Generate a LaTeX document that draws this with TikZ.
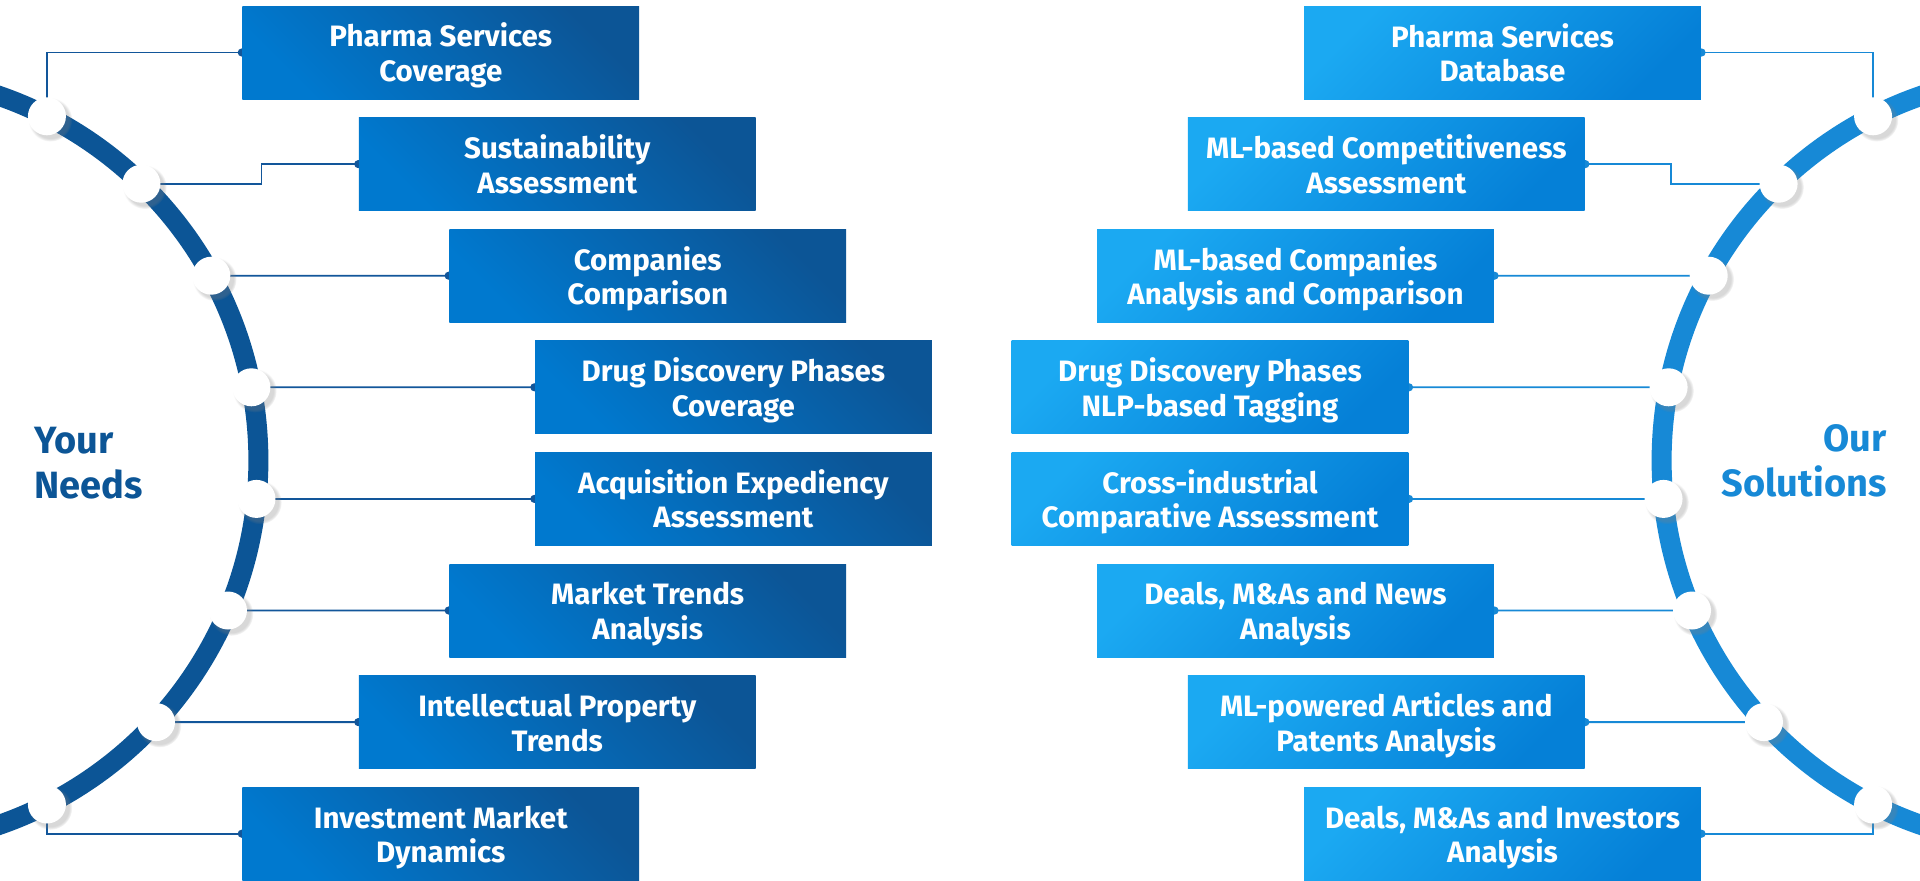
\documentclass[tikz,border=0pt]{standalone}
\usepackage{fontspec}
\setmainfont{Fira Sans}
\usetikzlibrary{calc,shadows,arrows.meta}
\definecolor{needdark}{HTML}{0C5596}
\definecolor{needlight}{HTML}{0079CF}
\definecolor{needline}{HTML}{12569A}
\definecolor{soldark}{HTML}{0580D7}
\definecolor{sollight}{HTML}{1BA9F2}
\definecolor{solarc}{HTML}{1789D6}
\newcommand\topstrut{\rule{0pt}{30pt}}
\pgfdeclarelayer{back}
\pgfsetlayers{back,main}

\begin{document}
\begin{tikzpicture}[x=1pt, y=-1pt,
    box/.style={minimum width=396.7pt, minimum height=93pt, inner sep=0pt, align=center, text=white, font=\fontsize{29.5}{34.5}\selectfont\bfseries,
      execute at end node={\rule[-6.5pt]{0pt}{6.5pt}}},
    needbox/.style={box, bottom color=needlight, top color=needdark, shading angle=-45},
    solbox/.style={box, top color=sollight, bottom color=soldark, shading angle=45},
    knob/.style={circle, fill=white, minimum size=38pt, inner sep=0pt, circular drop shadow={shadow scale=1.15, shadow xshift=3pt, shadow yshift=-3pt, opacity=0.3}},
    needlink/.style={draw=needline, line width=1.8pt, shorten >=-3.5pt, -{Circle[length=8pt]}},
    sollink/.style={draw=solarc, line width=1.8pt, shorten >=-3.5pt, -{Circle[length=8pt]}},
    side/.style={font=\fontsize{38}{45}\selectfont\bfseries}]
  \useasboundingbox (0,0) rectangle (1920,881);
  \clip (0,0) rectangle (1920,881);

  \begin{pgfonlayer}{back}
    \fill[white] (0,0) rectangle (1920,881);
    \draw[needdark, line width=20pt] (-127.3,460.4) circle[radius=385.7pt];
    \draw[solarc, line width=20pt] (2047.3,460.4) circle[radius=385.7pt];
  \end{pgfonlayer}

  \foreach \i/\xl/\xr/\tl/\tr in {
      1/440.8/1502.5/{Pharma Services\\Coverage}/{Pharma Services\\Database},
      2/557.3/1386.3/{Sustainability\\Assessment}/{ML-based Competitiveness\\Assessment},
      3/647.7/1295.5/{Companies\\Comparison}/{ML-based Companies\\Analysis and Comparison},
      4/733.4/1210/{Drug Discovery Phases\\Coverage}/{Drug Discovery Phases\\NLP-based Tagging},
      5/733.4/1210/{Acquisition Expediency\\Assessment}/{Cross-industrial\\Comparative Assessment},
      6/647.7/1295.5/{Market Trends\\Analysis}/{Deals, M\&As and News\\Analysis},
      7/557.3/1386.3/{Intellectual Property\\Trends}/{ML-powered Articles and\\Patents Analysis},
      8/440.8/1502.5/{Investment Market\\Dynamics}/{Deals, M\&As and Investors\\Analysis}} {
    \pgfmathsetmacro\yy{52.5+111.6*(\i-1)}
    \node[needbox] (n\i) at (\xl,\yy) {\topstrut\tl};
    \node[solbox] (s\i) at (\xr,\yy) {\topstrut\tr};
  }

  \foreach \i/\yy in {1/116.3,2/183.7,3/275.7,4/387.3,5/498.9,6/610.5,7/722.1,8/804.5} {
    \pgfmathsetmacro\xx{-127.3+100*sqrt(3.857^2-((\yy-460.4)/100)^2)}
    \node[knob] (nk\i) at (\xx,\yy) {};
    \node[knob] (sk\i) at (1920-\xx,\yy) {};
  }

  \begin{pgfonlayer}{back}
    \draw[needlink] (nk1.center) |- (n1.west);
    \draw[needlink] (nk2.center) -- ++(120,0) |- (n2.west);
    \foreach \i in {3,...,7} \draw[needlink] (nk\i.center) -- (n\i.west);
    \draw[needlink] (nk8.center) |- (n8.west);
    \draw[sollink] (sk1.center) |- (s1.east);
    \draw[sollink] (sk2.center) -- ++(-108,0) |- (s2.east);
    \foreach \i in {3,...,7} \draw[sollink] (sk\i.center) -- (s\i.east);
    \draw[sollink] (sk8.center) |- (s8.east);
  \end{pgfonlayer}

  \node[side, text=needdark, align=left, anchor=base west] (needs) at (31,498) {Your\\Needs};
  \node[side, text=solarc, align=right, anchor=base east] (sols) at (1890,496) {Our\\Solutions};
\end{tikzpicture}
\end{document}
